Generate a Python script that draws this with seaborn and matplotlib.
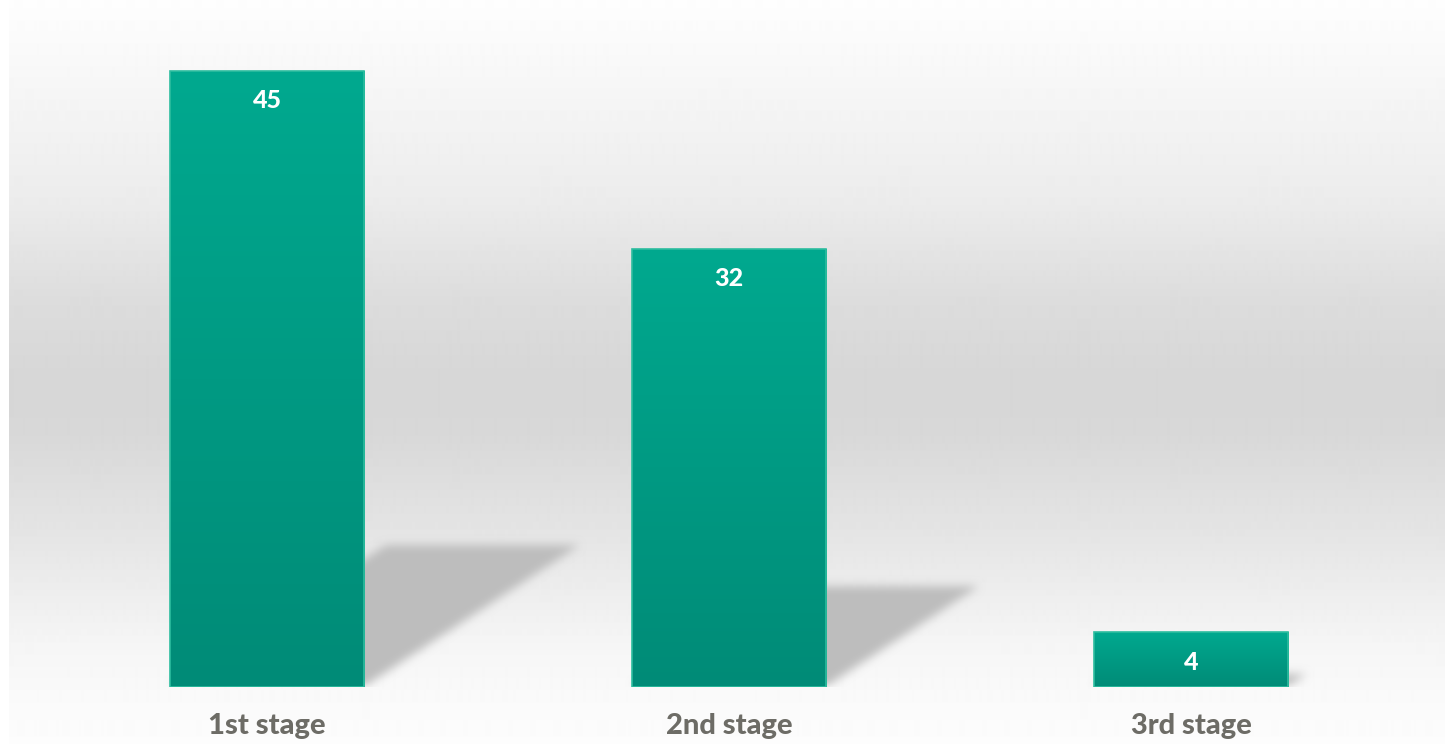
import numpy as np
import matplotlib.pyplot as plt
import seaborn as sns
from matplotlib.colors import LinearSegmentedColormap

stages = ["1st stage", "2nd stage", "3rd stage"]
values = [45, 32, 4]

sns.set_theme(style="white")
plt.rcParams["font.family"] = ["Lato", "DejaVu Sans"]

W, H, DPI = 1445, 744, 100
fig = plt.figure(figsize=(W / DPI, H / DPI), dpi=DPI)
fig.patch.set_facecolor("white")

# grey vertical gradient backdrop
bg = fig.add_axes([9 / W, 0, 1 - 9 / W, 1], zorder=0)
stop_y = [0, 60, 200, 300, 380, 430, 540, 640, 700, 744]
stop_g = [0.995, 0.975, 0.925, 0.865, 0.84, 0.845, 0.9, 0.96, 0.98, 0.99]
grad = np.interp(np.arange(H), stop_y, stop_g)
bg.imshow(np.repeat(grad[:, None], 2, axis=1), cmap="gray", vmin=0, vmax=1,
          aspect="auto", extent=[0, 1, 0, 1], interpolation="bilinear")
bg.axis("off")

ax = fig.add_axes([0, 57 / H, 1, 687 / H], zorder=1)
ax.patch.set_alpha(0)
sns.barplot(x=stages, y=values, width=0.42, color="#00a08a", ax=ax)

ppx = 462.0                 # px per category step
ppy = 616.0 / 45            # px per unit
xlim = (-267 / ppx, (W - 267) / ppx)
ylim = (0, 687 / ppy)
ax.set_xlim(*xlim)
ax.set_ylim(*ylim)

# soft cast shadows behind each bar
nx, ny = W, 687
X, Y = np.meshgrid(np.linspace(xlim[0], xlim[1], nx), np.linspace(ylim[1], ylim[0], ny))
mask = np.zeros((ny, nx))
for p in ax.patches:
    x0, w, h = p.get_x(), p.get_width(), p.get_height()
    dy = 0.23 * h
    dx = 0.35 * h * ppy / ppx
    s = dx / dy
    u = X - s * Y
    inside = (Y >= 0) & (Y <= dy) & (u >= x0) & (u <= x0 + w)
    mask[inside] = 1.0

def box_blur(a, r):
    k = np.ones(2 * r + 1) / (2 * r + 1)
    a = np.apply_along_axis(lambda m: np.convolve(m, k, mode="same"), 1, a)
    a = np.apply_along_axis(lambda m: np.convolve(m, k, mode="same"), 0, a)
    return a

for _ in range(3):
    mask = box_blur(mask, 4)
shadow = np.zeros((ny, nx, 4))
shadow[..., :3] = 0.745
shadow[..., 3] = mask
ax.imshow(shadow, extent=[xlim[0], xlim[1], ylim[0], ylim[1]], aspect="auto",
          zorder=1, interpolation="bilinear")

# gradient fill for the bars
bar_cmap = LinearSegmentedColormap.from_list("bar", ["#00a98f", "#008b77"])
for p, v in zip(ax.patches, values):
    x0, w, h = p.get_x(), p.get_width(), p.get_height()
    im = ax.imshow(np.linspace(0, 1, 256)[:, None], cmap=bar_cmap, aspect="auto",
                   extent=[x0, x0 + w, 0, h], zorder=3, interpolation="bilinear")
    im.set_clip_path(p)
    p.set_facecolor("none")
    p.set_edgecolor("#2dbd9f")
    p.set_linewidth(1.2)
    p.set_zorder(4)
    ax.text(x0 + w / 2, h - 30 / ppy, str(v), ha="center", va="center",
            color="white", fontsize=18, fontweight="black", zorder=5)

ax.set_xlim(*xlim)
ax.set_ylim(*ylim)
ax.set_xticks(range(len(stages)))
ax.set_xticklabels(stages, fontsize=21, fontweight="black", color="#6d6c66")
ax.tick_params(axis="x", length=0, pad=19)
ax.set_yticks([])
ax.set_xlabel("")
ax.set_ylabel("")
sns.despine(ax=ax, left=True, bottom=True)

fig.savefig("out.png", dpi=DPI)
